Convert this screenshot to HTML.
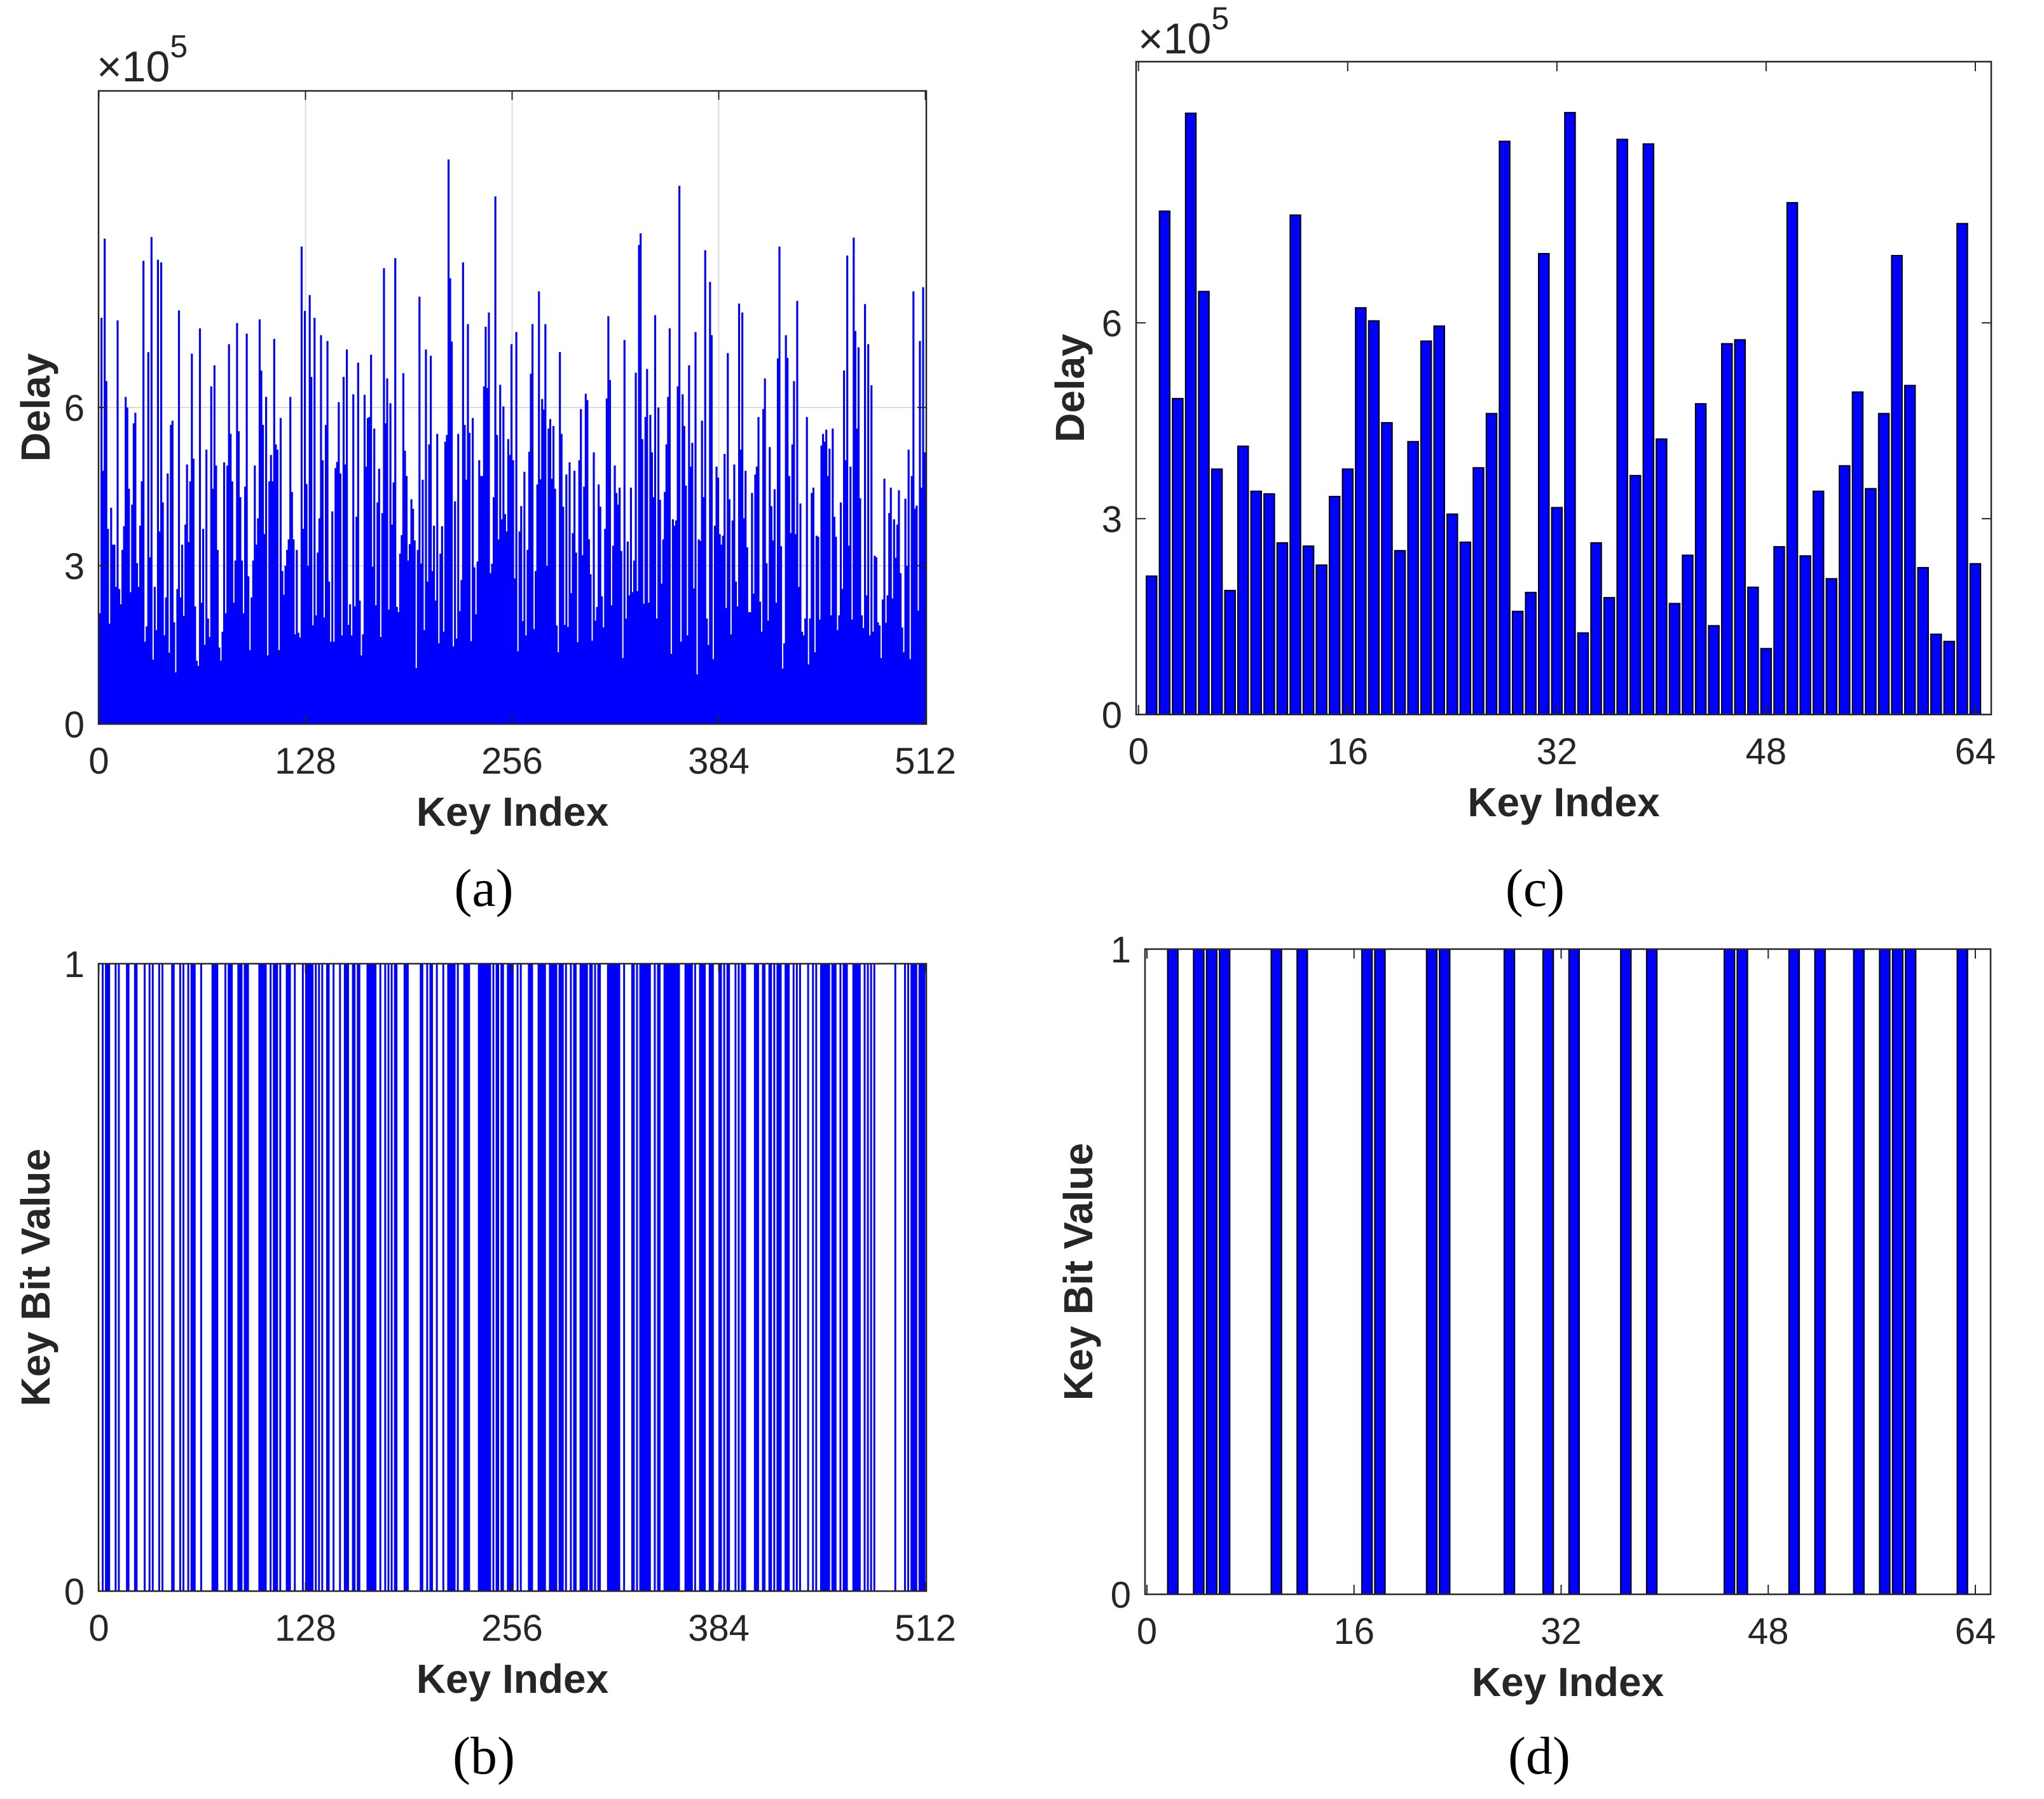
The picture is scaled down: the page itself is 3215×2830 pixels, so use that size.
<!DOCTYPE html>
<html>
<head>
<meta charset="utf-8">
<style>
html,body{margin:0;padding:0;background:#fff;}
svg{display:block;}
text{font-family:"Liberation Sans",Arial,sans-serif;fill:#262626;}
.tick{font-size:58px;}
.expo{font-size:68px;}
.title{font-size:64px;font-weight:bold;}
.cap{font-family:"Liberation Serif","Times New Roman",serif;font-size:84px;fill:#000;}
</style>
</head>
<body>
<svg id="fig" xmlns="http://www.w3.org/2000/svg" width="3215" height="2830" viewBox="0 0 3215 2830">
<rect x="0" y="0" width="3215" height="2830" fill="#fff"/>
</svg>
<script>
// ---------- data ----------
const cKeyIndex = [1,2,3,4,5,6,7,8,9,10,11,12,13,14,15,16,17,18,19,20,21,22,23,24,25,26,27,28,29,30,31,32,33,34,35,36,37,38,39,40,41,42,43,44,45,46,47,48,49,50,51,52,53,54,55,56,57,58,59,60,61,62,63,64];
const cDelay = [2.12,7.71,4.84,9.21,6.48,3.76,1.90,4.11,3.42,3.38,2.63,7.65,2.58,2.29,3.34,3.76,6.23,6.03,4.47,2.51,4.18,5.72,5.95,3.07,2.64,3.78,4.61,8.78,1.58,1.87,7.06,3.17,9.22,1.25,2.63,1.79,8.81,3.66,8.74,4.22,1.70,2.44,4.76,1.36,5.68,5.74,1.95,1.01,2.57,7.84,2.43,3.42,2.08,3.81,4.94,3.46,4.61,7.03,5.04,2.25,1.23,1.12,7.52,2.31];
const aDelay = [
2.1,7.7,4.8,9.2,6.5,3.7,1.9,4.1,3.4,3.4,2.6,7.65,2.56,2.27,3.3,3.75,6.2,6.0,4.46,2.5,
4.16,5.7,5.9,3.05,2.6,3.76,4.6,8.78,1.56,1.85,7.05,3.16,9.23,1.22,2.6,1.78,8.8,3.65,8.75,4.2,
1.68,2.4,4.75,1.35,5.67,5.75,1.93,0.98,2.56,7.84,2.4,3.4,2.05,3.78,4.92,3.45,4.6,7.02,5.03,2.23,
1.2,1.1,7.5,2.3,3.7,1.5,5.2,2.0,1.65,6.4,4.46,6.8,
4.9,3.3,1.45,1.2,1.75,4.96,2.1,4.9,7.2,5.5,4.6,2.3,3.1,7.6,5.55,4.3,3.1,2.1,4.5,7.4,
2.8,1.4,2.4,3.1,4.9,3.4,3.9,7.67,6.7,5.67,3.6,6.2,1.3,4.6,5.1,4.6,7.3,5.3,5.2,1.4,
5.8,2.9,2.45,3.0,3.3,3.5,6.2,4.4,3.5,1.7,3.3,1.73,1.64,9.05,3.7,7.83,4.55,3.0,8.13,6.58,
1.87,7.7,2.06,3.25,3.9,7.37,5.0,2.02,5.67,7.26,2.7,1.56,4.03,1.56,4.85,4.97,6.1,4.75,1.68,6.58,
4.92,7.1,1.88,2.27,1.68,6.25,2.23,3.93,6.85,2.34,1.3,1.7,6.24,4.88,5.8,5.82,7.0,2.98,
5.6,2.25,4.2,4.84,1.65,4.0,8.64,5.7,6.55,2.17,6.08,3.78,4.58,8.83,2.22,2.12,3.23,3.58,6.65,5.18,
4.7,3.1,3.41,4.26,4.08,3.48,1.06,3.3,8.1,3.04,4.63,1.78,7.1,2.7,5.3,6.98,2.9,3.76,2.34,5.5,
1.53,3.23,3.75,1.75,5.35,5.48,10.7,8.45,7.25,1.47,4.22,1.62,5.5,2.14,2.73,8.75,5.67,4.63,7.58,5.52,
1.57,5.8,2.97,2.08,3.08,5.0,4.7,4.7,6.4,7.53,6.37,7.8,2.86,3.04,4.3,10.0,5.48,3.5,6.43,3.88,
6.02,3.98,3.65,5.4,5.1,7.2,5.0,2.76,7.43,1.38,3.65,4.13,1.95,4.78,1.68,3.3,5.16,6.64,7.58,1.8,
2.9,4.54,8.2,4.64,6.16,5.96,7.58,3.0,5.6,5.78,4.65,5.65,4.46,1.87,1.36,7.05,5.5,4.12,1.88,4.73,
1.84,4.96,2.48,3.62,4.8,3.25,1.55,5.0,5.97,3.2,4.5,6.26,6.14,3.5,2.84,1.58,5.15,1.96,2.22,4.54,
4.12,2.42,1.83,3.7,6.17,7.73,6.52,2.25,3.38,4.9,4.38,4.16,4.48,3.28,1.25,7.28,2.0,3.46,2.44,4.48,
2.5,3.1,6.66,2.52,9.08,9.3,5.4,2.28,5.82,6.73,
2.3,5.86,5.15,4.3,7.75,2.0,6.0,4.25,2.66,3.5,4.4,5.3,6.2,7.5,1.33,3.88,3.76,3.86,6.4,10.2,
1.56,6.25,5.65,4.52,1.68,6.8,4.88,5.33,2.57,7.43,0.94,3.5,3.47,5.75,4.3,8.98,2.0,1.5,8.38,7.37,
1.23,3.76,4.88,4.67,3.6,3.4,3.57,5.12,2.2,7.03,4.26,1.7,3.86,4.92,2.7,2.23,7.97,5.2,7.8,3.9,
4.8,3.35,2.12,2.12,4.38,2.47,4.73,4.88,5.82,2.32,1.75,5.97,6.55,3.05,1.96,5.25,4.13,3.48,4.45,2.3,
6.93,9.05,3.37,1.05,1.53,7.37,6.94,4.7,3.62,5.3,6.5,3.6,8.02,2.6,4.18,1.75,1.68,2.0,5.82,1.13,
2.0,4.38,4.48,1.36,3.57,3.55,1.98,5.28,5.5,5.35,5.58,4.7,5.22,2.06,5.6,3.93,3.55,1.78,2.06,4.2,
2.56,6.7,5.0,8.88,3.38,4.88,1.98,9.22,7.45,5.6,7.14,4.28,2.06,1.82,7.96,2.44,7.2,1.68,6.42,1.75,
3.19,3.16,1.93,1.87,1.25,2.36,4.65,1.92,2.44,4.0,4.48,2.38,3.88,3.15,3.78,4.43,2.86,1.83,1.36,4.27,
3.0,5.2,1.23,4.7,8.2,4.08,4.14,2.15,7.26,4.48,8.28,5.15];
const bOneIndices = [2,4,5,6,10,12,17,18,22,23,28,31,33,37,39,45,46,50,52,55,57,58,59,63,70,71,72,73,78,80,81,82,86,87,88,90,91,92,99,100,101,102,103,106,108,109,110,112,116,117,118,121,126,128,129,130,131,132,134,136,138,141,142,145,149,152,153,154,157,158,160,161,166,167,168,169,170,171,174,177,179,181,183,184,189,190,191,199,200,203,205,206,209,213,216,217,218,219,220,222,226,227,228,229,235,236,237,238,239,240,241,242,244,246,247,249,250,253,254,255,256,259,261,266,267,268,272,273,274,275,276,279,280,281,282,283,285,286,287,289,292,294,295,298,299,300,301,302,304,305,307,309,310,315,316,317,318,319,320,321,322,325,330,331,333,335,336,337,338,339,340,341,344,346,347,350,351,352,353,354,355,356,357,358,359,363,364,365,366,367,369,372,373,374,375,378,379,380,384,385,387,389,390,394,396,398,399,400,406,407,408,411,412,415,416,418,420,421,422,425,426,427,430,432,434,439,442,444,447,448,449,450,451,452,454,455,456,459,461,462,463,467,468,469,470,471,474,476,478,480,493,499,501,503,504,505,506,508,509,510,511];
const dOneIndices = [2,4,5,6,10,12,17,18,22,23,28,31,33,37,39,45,46,50,52,55,57,58,59,63];
const xTicks512 = [0,128,256,384,512];
const xTicks64 = [0,16,32,48,64];
const yTicksDelay = [0,3,6];
const yTicksBit = [0,1];

// ---------- helpers ----------
const NS = 'http://www.w3.org/2000/svg';
const svg = document.getElementById('fig');
function mk(tag, attrs, parent){
  const e = document.createElementNS(NS, tag);
  for (const k in attrs) e.setAttribute(k, attrs[k]);
  (parent||svg).appendChild(e);
  return e;
}
function scale(d0,d1,r0,r1){ return v => r0 + (v-d0)*(r1-r0)/(d1-d0); }

function axesFrame(g, box, xs, ys, xt, yt, xLabels, yLabels, tickLen){
  xt.forEach(t=>{
    const x = xs(t);
    const l1 = mk('line',{x1:x,y1:box.b,x2:x,y2:box.b-tickLen,stroke:'#262626','stroke-width':2},g);
    
    
    const l2 = mk('line',{x1:x,y1:box.t,x2:x,y2:box.t+tickLen,stroke:'#262626','stroke-width':2},g);
    
    
  });
  yt.forEach(t=>{
    const y = ys(t);
    const l1 = mk('line',{x1:box.l,y1:y,x2:box.l+tickLen,y2:y,stroke:'#262626','stroke-width':2},g);
    
    
    const l2 = mk('line',{x1:box.r,y1:y,x2:box.r-tickLen,y2:y,stroke:'#262626','stroke-width':2},g);
    
    
  });
  const fr = mk('rect',{x:box.l,y:box.t,width:box.r-box.l,height:box.b-box.t,fill:'none',stroke:'#262626','stroke-width':2.5},g);
  
  
  xt.forEach((t,i)=>{
    const tx = mk('text',{x:xs(t),y:box.b+78,'text-anchor':'middle',class:'tick'},g);
    tx.textContent = xLabels[i];
    
    
  });
  yt.forEach((t,i)=>{
    const ty = mk('text',{x:box.l-22,y:ys(t)+21,'text-anchor':'end',class:'tick'},g);
    ty.textContent = yLabels[i];
    
    
  });
}
function titles(g, box, xTitle, yTitle, yTitleX, cap, capY){
  const xt = mk('text',{x:(box.l+box.r)/2,y:box.b+160,'text-anchor':'middle',class:'title'},g);
  xt.textContent = xTitle;
  
  
  const cy = (box.t+box.b)/2;
  const yt = mk('text',{x:yTitleX,y:cy,'text-anchor':'middle',class:'title',transform:'rotate(-90 '+yTitleX+' '+cy+')'},g);
  yt.textContent = yTitle;
  
  
  const cp = mk('text',{x:(box.l+box.r)/2-45,y:capY,'text-anchor':'middle',class:'cap'},g);
  cp.textContent = cap;
  
  
}
function exponent(g, x, y){
  const t = mk('text',{x:x,y:y,class:'expo'},g);
  
  
  const s1 = mk('tspan',{},t); s1.textContent = '\u00d710';
  const s2 = mk('tspan',{dy:-38,'font-size':'50px'},t); s2.textContent = '5';
}

// ---------- panel (a) ----------
(function(){
  const box = {l:155,r:1457,t:143,b:1139};
  const g = mk('g',{});
  
  
  const xs = scale(0,512,155.5,1455.5);
  const ys = scale(0,12,box.b,box.t);
  [128,256,384].forEach(v=>{
    const l = mk('line',{x1:xs(v),y1:box.t,x2:xs(v),y2:box.b,stroke:'#dcdcdc','stroke-width':2},g);
    
    
  });
  [3,6].forEach(v=>{
    const l = mk('line',{x1:box.l,y1:ys(v),x2:box.r,y2:ys(v),stroke:'#dcdcdc','stroke-width':2},g);
    
    
  });
  aDelay.forEach((v,i)=>{
    const x0 = xs(i), x1 = xs(i+1);
    const r = mk('rect',{x:x0,y:ys(v),width:x1-x0+0.6,height:ys(0)-ys(v),fill:'#0000ff'},g);
    
    
  });
  axesFrame(g, box, xs, ys, xTicks512, yTicksDelay, xTicks512.map(String), yTicksDelay.map(String), 14);
  exponent(g, 152, 128);
  titles(g, box, 'Key Index', 'Delay', 78, '(a)', 1425);
})();

// ---------- panel (b) ----------
(function(){
  const box = {l:155,r:1457,t:1516,b:2503};
  const g = mk('g',{});
  
  
  const xs = scale(0,512,155.5,1455.5);
  const ys = scale(0,1,box.b,box.t);
  const bits = new Array(512).fill(0);
  bOneIndices.forEach(i=>{ bits[i-1] = 1; });
  bits.forEach((v,k)=>{
    if(!v) return;
    const i = k+1;
    const x0 = Math.max(xs(i-0.2), box.l), x1 = Math.min(xs(i+0.8), box.r);
    const r = mk('rect',{x:x0,y:ys(v),width:x1-x0+0.4,height:ys(0)-ys(v),fill:'#0000ff'},g);
    
    
  });
  axesFrame(g, box, xs, ys, xTicks512, yTicksBit, xTicks512.map(String), yTicksBit.map(String), 14);
  titles(g, box, 'Key Index', 'Key Bit Value', 78, '(b)', 2790);
})();

// ---------- panel (c) ----------
(function(){
  const box = {l:1787,r:3132,t:97,b:1124};
  const g = mk('g',{});
  
  
  const xs = scale(0,64,1790.7,3107);
  const ys = scale(0,10,box.b,box.t);
  cKeyIndex.forEach((k,i)=>{
    const v = cDelay[i];
    const x0 = xs(k-0.4), x1 = xs(k+0.4);
    const r = mk('rect',{x:x0,y:ys(v),width:x1-x0,height:ys(0)-ys(v),fill:'#0000ff',stroke:'#000','stroke-width':2},g);
    
    
  });
  axesFrame(g, box, xs, ys, xTicks64, yTicksDelay, xTicks64.map(String), yTicksDelay.map(String), 15);
  exponent(g, 1790, 84);
  titles(g, box, 'Key Index', 'Delay', 1705, '(c)', 1425);
})();

// ---------- panel (d) ----------
(function(){
  const box = {l:1801,r:3131,t:1493,b:2508};
  const g = mk('g',{});
  
  
  const xs = scale(0,64,1804,3107);
  const ys = scale(0,1,box.b,box.t);
  dOneIndices.forEach(k=>{
    const x0 = xs(k-0.4), x1 = xs(k+0.4);
    const r = mk('rect',{x:x0,y:ys(1),width:x1-x0,height:ys(0)-ys(1),fill:'#0000ff',stroke:'#000','stroke-width':2},g);
    
    
  });
  axesFrame(g, box, xs, ys, xTicks64, yTicksBit, xTicks64.map(String), yTicksBit.map(String), 15);
  titles(g, box, 'Key Index', 'Key Bit Value', 1718, '(d)', 2790);
})();
</script>
</body>
</html>
